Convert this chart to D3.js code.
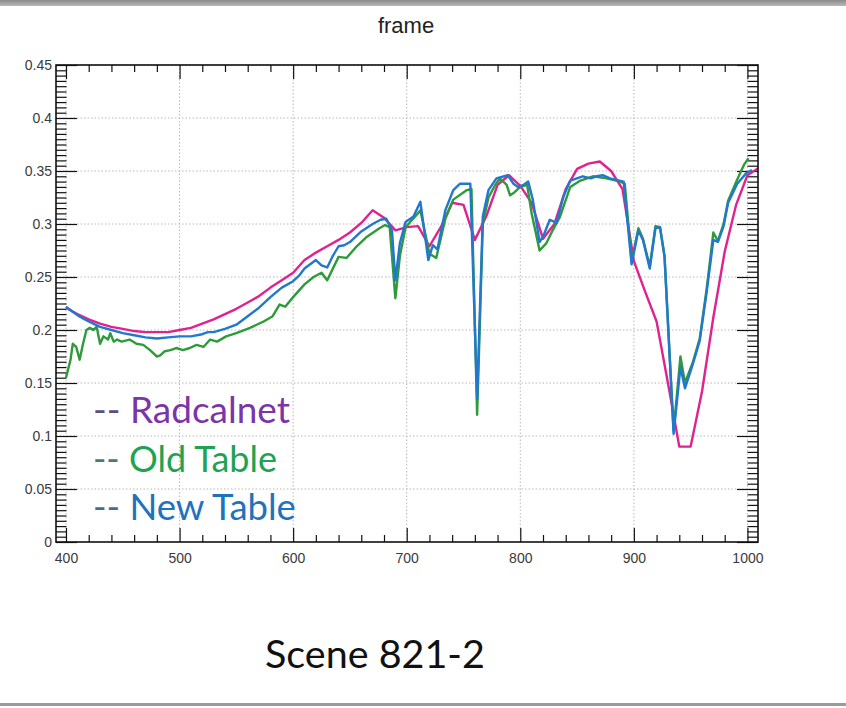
<!DOCTYPE html>
<html>
<head>
<meta charset="utf-8">
<script src="https://cdn.jsdelivr.net/npm/d3@7"></script>
<style>
  html, body { margin: 0; padding: 0; background: #fff; }
  svg { display: block; }
</style>
</head>
<body>
<svg id="chart" width="846" height="708"></svg>
<script>
// Reflectance spectra for scene 821-2: RadCalNet reference vs. old and new lookup tables

const radcalnetWl = [400,410,420,430,440,450,460,470,480,490,500,510,520,530,540,550,560,570,580,590,
  600,610,620,630,640,650,660,670,680,690,700,710,720,730,740,750,760,770,780,790,
  800,810,820,830,840,850,860,870,880,890,900,910,920,930,940,950,960,970,980,990,1000,1010];
const radcalnetVals = [0.221,0.215,0.210,0.206,0.203,0.201,0.199,0.198,0.198,0.198,0.200,0.202,0.206,0.210,0.215,0.220,0.226,0.232,0.240,0.247,
  0.254,0.266,0.273,0.279,0.285,0.292,0.301,0.313,0.306,0.294,0.297,0.298,0.279,0.297,0.320,0.318,0.285,0.307,0.337,0.346,
  0.336,0.320,0.286,0.300,0.333,0.352,0.357,0.359,0.350,0.333,0.265,0.236,0.208,0.150,0.090,0.090,0.142,0.212,0.274,0.318,0.346,0.353];

const oldTableWl = [400,404,406,409,412,415,418,421,424,427,430,433,437,439,442,445,449,456,462,468,474,480,483,487,492,497,
  503,509,515,521,527,533,541,550,562,574,582,588,593,600,610,618,625,630,640,647,656,665,676,681,685,690,694,699,
  709,712,720,726,734,741,753,757,762,767,772,778,782,788,791,795,800,806,810,817,823,828,835,844,853,864,876,888,892,
  898,904,908,914,919,923,927,935,941,945,952,958,964,970,974,979,983,991,997,1001];
const oldTableVals = [0.155,0.172,0.187,0.184,0.172,0.187,0.200,0.202,0.200,0.203,0.187,0.194,0.191,0.197,0.189,0.191,0.189,0.191,0.187,0.186,0.181,0.175,0.176,0.180,0.181,0.183,
  0.181,0.183,0.186,0.184,0.191,0.189,0.194,0.197,0.202,0.208,0.213,0.224,0.222,0.231,0.243,0.250,0.254,0.247,0.269,0.268,0.279,0.288,0.296,0.299,0.297,0.230,0.270,0.297,
  0.309,0.313,0.272,0.268,0.305,0.323,0.332,0.333,0.120,0.300,0.325,0.337,0.343,0.337,0.327,0.330,0.335,0.337,0.310,0.275,0.282,0.293,0.307,0.335,0.341,0.345,0.343,0.340,0.338,
  0.265,0.296,0.286,0.260,0.298,0.297,0.270,0.105,0.175,0.150,0.170,0.192,0.238,0.292,0.284,0.300,0.322,0.342,0.356,0.362];

const newTableWl = [400,405,410,415,420,430,440,450,460,470,480,490,500,510,520,525,530,540,550,560,570,580,590,
  600,605,610,615,620,625,630,635,640,645,650,660,670,677,682,687,690,694,699,706,712,719,723,727,734,741,747,756,
  762,767,772,779,789,794,798,803,807,811,817,820,826,832,838,844,855,862,867,873,879,891,
  898,904,908,914,919,923,927,935,941,945,952,958,964,970,974,979,983,991,999,1004];
const newTableVals = [0.222,0.218,0.214,0.211,0.208,0.203,0.200,0.197,0.195,0.193,0.192,0.193,0.194,0.194,0.196,0.198,0.198,0.201,0.205,0.213,0.221,0.231,0.240,
  0.246,0.251,0.258,0.262,0.266,0.261,0.259,0.270,0.279,0.280,0.283,0.293,0.300,0.304,0.305,0.294,0.247,0.282,0.302,0.307,0.321,0.266,0.280,0.276,0.313,0.332,0.338,0.338,
  0.135,0.307,0.332,0.343,0.346,0.338,0.335,0.337,0.340,0.323,0.283,0.288,0.304,0.301,0.326,0.341,0.345,0.343,0.345,0.346,0.343,0.340,
  0.262,0.294,0.285,0.258,0.296,0.297,0.269,0.102,0.165,0.145,0.168,0.190,0.235,0.285,0.283,0.298,0.320,0.338,0.348,0.351];

const xMajorTicks = [400,500,600,700,800,900,1000];
const yMajorTicks = [0,0.05,0.1,0.15,0.2,0.25,0.3,0.35,0.4,0.45];
const yTickLabels = ["0","0.05","0.1","0.15","0.2","0.25","0.3","0.35","0.4","0.45"];

const legendLabels = ["Radcalnet","Old Table","New Table"];
const plotTitle = "frame";
const sceneLabel = "Scene 821-2";

// ---- layout ----
const svg = d3.select("#chart");
const W = 846, H = 708;
const frame = { left: 56, right: 758, top: 65, bottom: 542 };

const x = d3.scaleLinear().domain([391.2, 1009.3]).range([frame.left, frame.right]);
const y = d3.scaleLinear().domain([0, 0.45]).range([frame.bottom, frame.top]);

// slide edges
const defs = svg.append("defs");
const grad = defs.append("linearGradient").attr("id","topbar").attr("x1",0).attr("x2",0).attr("y1",0).attr("y2",1);
grad.append("stop").attr("offset","0%").attr("stop-color","#8a8a8a");
grad.append("stop").attr("offset","100%").attr("stop-color","#b9b9b9");
svg.append("rect").attr("x",0).attr("y",0).attr("width",W).attr("height",6).attr("fill","url(#topbar)");
svg.append("rect").attr("x",0).attr("y",703).attr("width",W).attr("height",3).attr("fill","#9a9a9a");

defs.append("clipPath").attr("id","plotclip").append("rect")
  .attr("x", frame.left).attr("y", frame.top)
  .attr("width", frame.right - frame.left).attr("height", frame.bottom - frame.top);

// ---- grid ----
const grid = svg.append("g").attr("stroke","#b8b8b8").attr("stroke-width",1).attr("stroke-dasharray","1.5,2");
grid.selectAll("line.gx").data(xMajorTicks).join("line")
  .attr("x1", d => x(d)).attr("x2", d => x(d))
  .attr("y1", frame.top).attr("y2", frame.bottom);
grid.selectAll("line.gy").data(yMajorTicks.slice(1)).join("line")
  .attr("x1", frame.left).attr("x2", frame.right)
  .attr("y1", d => y(d)).attr("y2", d => y(d));

// ---- axes ----
const xMinor = d3.range(400, 1001, 20).filter(v => v % 100 !== 0);
const yMinor = d3.range(0, 91).map(i => i * 0.005).filter((v, i) => i % 10 !== 0 && v <= 0.45);

function styleAxis(g) {
  g.select(".domain").remove();
  g.selectAll(".tick line").attr("stroke","#111").attr("stroke-width",1.2);
  g.selectAll(".tick text").attr("fill","#3a3a3a")
    .attr("font-family","'Liberation Sans', Arial, sans-serif").attr("font-size",14);
}

// bottom
svg.append("g").attr("transform",`translate(0,${frame.bottom})`)
  .call(d3.axisBottom(x).tickValues(xMajorTicks).tickSize(-14).tickSizeOuter(0).tickPadding(11).tickFormat(d3.format("d")))
  .call(styleAxis);
svg.append("g").attr("transform",`translate(0,${frame.bottom})`)
  .call(d3.axisBottom(x).tickValues(xMinor).tickSize(-7).tickSizeOuter(0).tickFormat(""))
  .call(styleAxis);
// top (mirrored)
svg.append("g").attr("transform",`translate(0,${frame.top})`)
  .call(d3.axisTop(x).tickValues(xMajorTicks).tickSize(-14).tickSizeOuter(0).tickFormat(""))
  .call(styleAxis);
svg.append("g").attr("transform",`translate(0,${frame.top})`)
  .call(d3.axisTop(x).tickValues(xMinor).tickSize(-7).tickSizeOuter(0).tickFormat(""))
  .call(styleAxis);
// left
svg.append("g").attr("transform",`translate(${frame.left},0)`)
  .call(d3.axisLeft(y).tickValues(yMajorTicks).tickSize(-21).tickSizeOuter(0).tickPadding(4)
    .tickFormat((d, i) => yTickLabels[i]))
  .call(styleAxis);
svg.append("g").attr("transform",`translate(${frame.left},0)`)
  .call(d3.axisLeft(y).tickValues(yMinor).tickSize(-10.5).tickSizeOuter(0).tickFormat(""))
  .call(styleAxis);
// right (mirrored)
svg.append("g").attr("transform",`translate(${frame.right},0)`)
  .call(d3.axisRight(y).tickValues(yMajorTicks).tickSize(-21).tickSizeOuter(0).tickFormat(""))
  .call(styleAxis);
svg.append("g").attr("transform",`translate(${frame.right},0)`)
  .call(d3.axisRight(y).tickValues(yMinor).tickSize(-10.5).tickSizeOuter(0).tickFormat(""))
  .call(styleAxis);

// ---- spectra ----
const line = d3.line().x(d => x(d[0])).y(d => y(d[1]));
const series = [
  { wl: radcalnetWl, vals: radcalnetVals, color: "#e0228f" },
  { wl: oldTableWl,  vals: oldTableVals,  color: "#2e9a3a" },
  { wl: newTableWl,  vals: newTableVals,  color: "#2278cc" }
];
const plot = svg.append("g").attr("clip-path","url(#plotclip)");
series.forEach(s => {
  plot.append("path")
    .datum(s.wl.map((w, i) => [w, s.vals[i]]))
    .attr("fill","none").attr("stroke", s.color).attr("stroke-width",2.4)
    .attr("stroke-linejoin","round").attr("d", line);
});

// ---- frame ----
svg.append("rect")
  .attr("x", frame.left).attr("y", frame.top)
  .attr("width", frame.right - frame.left).attr("height", frame.bottom - frame.top)
  .attr("fill","none").attr("stroke","#111").attr("stroke-width",1.6);

// ---- title ----
svg.append("text").attr("x",406).attr("y",33).attr("text-anchor","middle")
  .attr("font-family","'Liberation Sans', Arial, sans-serif").attr("font-size",22).attr("fill","#222")
  .text(plotTitle);

// ---- legend text ----
function fitWidth(sel, target) {
  const len = sel.node().getComputedTextLength();
  const fs = parseFloat(sel.attr("font-size"));
  sel.attr("font-size", fs * target / len);
}
const legendStyles = [
  { color: "#7a35a8", dash: "#5a4f80", baseline: 423, width: 197 },
  { color: "#1fa352", dash: "#4a7d62", baseline: 472, width: 184 },
  { color: "#1f72bd", dash: "#4a6a92", baseline: 520, width: 203 }
];
legendLabels.forEach((lab, i) => {
  const st = legendStyles[i];
  const t = svg.append("text").attr("x",93).attr("y",st.baseline)
    .attr("font-family","Lato, 'Open Sans', sans-serif").attr("font-size",30);
  t.append("tspan").attr("fill", st.dash).text("-- ");
  t.append("tspan").attr("fill", st.color).text(lab);
  fitWidth(t, st.width);
});

// ---- scene caption ----
const cap = svg.append("text").attr("x",265).attr("y",668)
  .attr("font-family","Lato, 'Open Sans', sans-serif").attr("font-size",38).attr("fill","#111")
  .text(sceneLabel);
fitWidth(cap, 220);
</script>
</body>
</html>
